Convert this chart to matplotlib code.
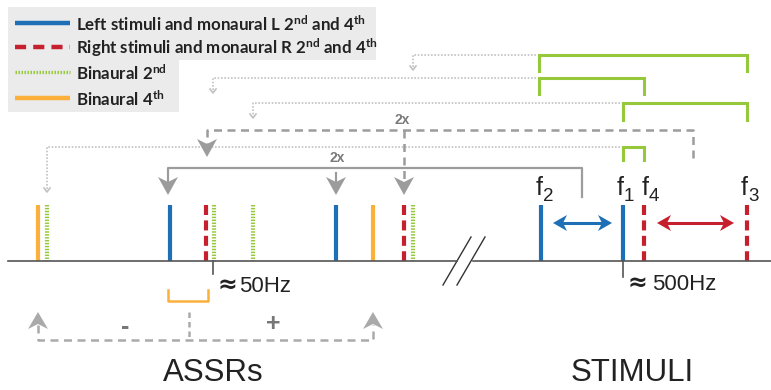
import matplotlib
matplotlib.use("Agg")
import matplotlib.pyplot as plt
from matplotlib.patches import Polygon
from matplotlib import font_manager as fm

# %%
# Schematic values (drawing units = pixels of the 771x390 canvas)
baseline_y = 261
line_top = 205

# ASSR side of the spectrum
assr_left_x = [170, 336]          # monaural L 2nd and 4th
assr_right_x = [206, 404]         # monaural R 2nd and 4th
assr_bin2_x = [47, 214, 253, 413]  # binaural 2nd
assr_bin4_x = [38, 373]           # binaural 4th

# stimuli side
stim_left_x = [541, 623]    # f2, f1
stim_right_x = [644, 747]   # f4, f3
stim_names = ["2", "1", "4", "3"]
stim_label_x = [542, 623, 648, 747]

# green brackets between stimuli -> binaural 2nd components
bracket_x0 = [539, 539, 623, 623]
bracket_x1 = [747, 644, 747, 644]
bracket_y = [55, 78, 103, 147]
bracket_leg = [16, 16, 17, 13]
bracket_target_x = [413, 213, 253, 47]
bracket_tip_y = [70, 93, 118, 192]

legend_labels = [
    r"Left stimuli and monaural L 2$^{\mathrm{nd}}$ and 4$^{\mathrm{th}}$",
    r"Right stimuli and monaural R 2$^{\mathrm{nd}}$ and 4$^{\mathrm{th}}$",
    r"Binaural 2$^{\mathrm{nd}}$",
    r"Binaural 4$^{\mathrm{th}}$",
]

blue = "#1f6fb6"
red = "#c61f2d"
green = "#96c83c"
orange = "#fbb03b"
grey = "#9c9c9c"
dot_grey = "#c2c2c2"
axis_col = "#555555"

names = {f.name for f in fm.fontManager.ttflist}
narrow = "Lato" if "Lato" in names else "Liberation Sans"
plt.rcParams["font.family"] = ["Liberation Sans", "DejaVu Sans"]
plt.rcParams["mathtext.fontset"] = "custom"
plt.rcParams["mathtext.rm"] = narrow + ":bold"
plt.rcParams["mathtext.bf"] = narrow + ":bold"
plt.rcParams["mathtext.it"] = narrow + ":bold"

blue_style = dict(color=blue, lw=3, solid_capstyle="butt")
red_style = dict(color=red, lw=3, linestyle=(0, (2.4, 1.3)), dash_capstyle="butt")
green_style = dict(color=green, lw=3, linestyle=(0, (0.35, 0.35)), dash_capstyle="butt")
orange_style = dict(color=orange, lw=3, solid_capstyle="butt")

fig = plt.figure(figsize=(7.71, 3.90), dpi=100)
ax = fig.add_axes([0, 0, 1, 1])
ax.set_xlim(0, 771)
ax.set_ylim(390, 0)
ax.axis("off")


def head(x, y, d, w, L, n, color, horizontal=False):
    # filled notched arrow head, tip at (x, y); d=+1 points to larger coords
    if horizontal:
        pts = [(x, y), (x - d * L, y - w / 2), (x - d * (L - n), y), (x - d * L, y + w / 2)]
    else:
        pts = [(x, y), (x - w / 2, y - d * L), (x, y - d * (L - n)), (x + w / 2, y - d * L)]
    ax.add_patch(Polygon(pts, closed=True, facecolor=color, edgecolor="none", zorder=5))


# axis with break
ax.plot([8, 457], [baseline_y] * 2, color=axis_col, lw=1.2, zorder=3)
ax.plot([473, 771], [baseline_y] * 2, color=axis_col, lw=1.2, zorder=3)
ax.plot([443, 471], [285, 237], color="#333333", lw=1)
ax.plot([457, 485], [285, 237], color="#333333", lw=1)

# spectral lines
for x in assr_left_x + stim_left_x:
    ax.plot([x, x], [line_top, baseline_y], **blue_style)
for x in assr_right_x + stim_right_x:
    ax.plot([x, x], [line_top, baseline_y], **red_style)
for x in assr_bin2_x:
    ax.plot([x, x], [line_top, baseline_y], **green_style)
for x in assr_bin4_x:
    ax.plot([x, x], [line_top, baseline_y], **orange_style)

# f labels
for x, s in zip(stim_label_x, stim_names):
    ax.text(x + 1, 195, "f", ha="right", va="baseline", fontsize=18, color="#222222")
    ax.text(x + 1, 201, s, ha="left", va="baseline", fontsize=13.5, color="#222222")

# double arrows between stimuli
ax.plot([562, 603], [223, 223], color=blue, lw=2.2)
head(553, 223, -1, 16, 14, 4, blue, horizontal=True)
head(612, 223, 1, 16, 14, 4, blue, horizontal=True)
ax.plot([666, 725], [223, 223], color=red, lw=2.2)
head(657, 223, -1, 16, 14, 4, red, horizontal=True)
head(734, 223, 1, 16, 14, 4, red, horizontal=True)

# green brackets and dotted routes
for x0, x1, y, leg, tx, ty in zip(bracket_x0, bracket_x1, bracket_y, bracket_leg,
                                  bracket_target_x, bracket_tip_y):
    ax.plot([x0, x0, x1, x1], [y + leg, y, y, y + leg], color=green, lw=2.2,
            solid_joinstyle="miter")
    ax.plot([x0 - 3, tx, tx], [y, y, ty], color=dot_grey, lw=1.2,
            linestyle=(0, (1, 1)))
    ax.plot([tx - 3, tx, tx + 3], [ty - 4, ty, ty - 4], color=dot_grey, lw=1.2)

# solid grey "2x" route: f2-f1 difference -> monaural L
ax.plot([582, 582, 168, 168], [197, 168, 168, 182], color=grey, lw=1.6)
head(168, 195, 1, 20, 18, 5, grey)
ax.plot([336, 336], [173, 182], color=grey, lw=1.6)
head(336, 195, 1, 20, 18, 5, grey)
ax.text(337, 158, "2x", ha="center", va="center", fontsize=10, fontweight="bold",
        color="#7a7a7a")

# dashed grey "2x" route: f3-f4 difference -> monaural R
dash = (0, (3.2, 2.2))
ax.plot([693, 693, 207, 207], [158, 130, 130, 143], color=grey, lw=1.8, linestyle=dash)
head(207, 157, 1, 20, 18, 5, grey)
ax.plot([404, 404], [130, 182], color=grey, lw=1.8, linestyle=dash)
head(404, 195, 1, 20, 18, 5, grey)
ax.text(402, 120, "2x", ha="center", va="center", fontsize=10, fontweight="bold",
        color="#7a7a7a")

# frequency ticks
ax.plot([213, 213], [baseline_y, 274], color=axis_col, lw=1.2)
ax.text(217, 285, "\u2248", ha="left", va="center", fontsize=17, fontweight="bold",
        family="DejaVu Sans", color="#222222")
ax.text(239, 286, "50Hz", ha="left", va="center", fontsize=16, color="#222222")
ax.plot([623, 623], [baseline_y, 277], color=axis_col, lw=1.2)
ax.text(628, 283, "\u2248", ha="left", va="center", fontsize=17, fontweight="bold",
        family="DejaVu Sans", color="#222222")
ax.text(652, 284, "500Hz", ha="left", va="center", fontsize=16, color="#222222")

# binaural 4th construction below the axis
ax.plot([168, 168, 208, 208], [290, 301, 301, 290], color=orange, lw=1.8)
ax.plot([38, 38, 373, 373], [325, 340, 340, 325], color="#aaaaaa", lw=1.8, linestyle=dash)
ax.plot([189, 189], [312, 340], color="#aaaaaa", lw=1.8, linestyle=(0, (2.2, 1.6)))
head(38, 312, -1, 20, 17, 5, "#aaaaaa")
head(373, 312, -1, 20, 17, 5, "#aaaaaa")
ax.text(125, 327, "-", ha="center", va="center", fontsize=18, fontweight="bold", color="#777777")
ax.text(273, 324, "+", ha="center", va="center", fontsize=18, fontweight="bold", color="#777777")

ax.text(213, 373, "ASSRs", ha="center", va="center", fontsize=22.5, color="#222222")
ax.text(632, 373, "STIMULI", ha="center", va="center", fontsize=22.5, color="#222222")

# legend
ax.add_patch(Polygon([(8, 7), (376, 7), (376, 60), (179, 60), (179, 112), (8, 112)],
                     closed=True, facecolor="#ebebeb", edgecolor="none", zorder=1))
legend_y = [23, 47, 72, 98]
legend_styles = [
    dict(color=blue, lw=3.2, solid_capstyle="butt"),
    dict(color=red, lw=3.2, linestyle=(0, (2.5, 1.6)), dash_capstyle="butt"),
    dict(color=green, lw=2.4, linestyle=(0, (0.45, 0.45)), dash_capstyle="butt"),
    dict(color=orange, lw=3.2, solid_capstyle="butt"),
]
for y, lab, st in zip(legend_y, legend_labels, legend_styles):
    ax.plot([15, 70], [y, y], zorder=2, **st)
    ax.text(76, y + 1, lab, ha="left", va="center", fontsize=12.2, fontweight="bold",
            family=[narrow, "DejaVu Sans"], color="#222222", zorder=2)

fig.savefig("out.png", dpi=100)
